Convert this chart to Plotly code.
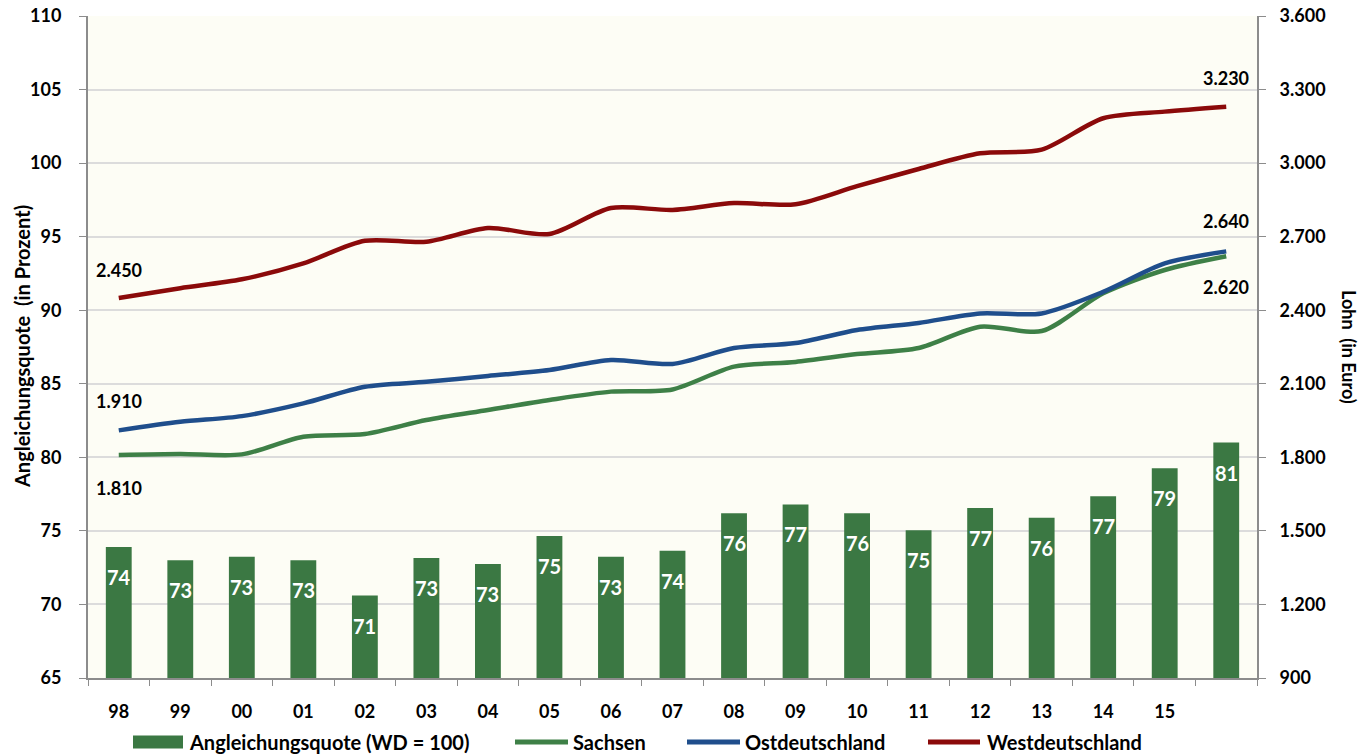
import plotly.graph_objects as go

years = ["98", "99", "00", "01", "02", "03", "04", "05", "06", "07",
         "08", "09", "10", "11", "12", "13", "14", "15", "16"]
quote = [73.9, 73.0, 73.25, 73.0, 70.6, 73.15, 72.75, 74.65, 73.25, 73.65,
         76.2, 76.8, 76.2, 75.05, 76.55, 75.9, 77.35, 79.25, 81.0]
quote_labels = [74, 73, 73, 73, 71, 73, 73, 75, 73, 74,
                76, 77, 76, 75, 77, 76, 77, 79, 81]
sachsen = [1810, 1814, 1812, 1884, 1895, 1952, 1993, 2034, 2068, 2077,
           2170, 2189, 2221, 2246, 2333, 2315, 2469, 2564, 2620]
ost = [1910, 1945, 1968, 2020, 2088, 2108, 2132, 2156, 2197, 2181,
       2246, 2266, 2319, 2348, 2387, 2387, 2475, 2591, 2640]
west = [2450, 2490, 2526, 2591, 2683, 2679, 2735, 2711, 2817, 2809,
        2837, 2832, 2906, 2976, 3040, 3055, 3183, 3210, 3230]
series_names = ["Angleichungsquote (WD = 100)", "Sachsen", "Ostdeutschland", "Westdeutschland"]

FONT = "Lato"
GREEN_BAR = "#3b7843"
GREEN = "#3e8047"
BLUE = "#1f4e8c"
RED = "#8b0a0a"

W, H = 1361, 754
ML, MR, MT, MB = 88, 104, 16, 76
PW, PH = W - ML - MR, H - MT - MB


def px_x(x):
    return (x - ML) / PW


def px_y(y):
    return (H - MB - y) / PH


fig = go.Figure()
fig.add_trace(go.Bar(x=years, y=quote, name=series_names[0],
                     marker=dict(color=GREEN_BAR, line=dict(width=0)),
                     yaxis="y"))
for name, vals, col in [(series_names[1], sachsen, GREEN),
                        (series_names[2], ost, BLUE),
                        (series_names[3], west, RED)]:
    fig.add_trace(go.Scatter(x=years, y=vals, name=name, mode="lines",
                             line=dict(color=col, width=4.5, shape="spline", smoothing=0.8),
                             yaxis="y2"))

annotations = []
for i, (v, lab) in enumerate(zip(quote, quote_labels)):
    annotations.append(dict(x=i, y=v, xref="x", yref="y", text=str(lab),
                            showarrow=False, yshift=-30,
                            font=dict(family=FONT, size=20, color="white", weight="bold")))


def fmt(v):
    return f"{v:,}".replace(",", ".")


last = len(years) - 1
for series, shift_first, shift_last in [(west, 28, 29), (ost, 29, 30), (sachsen, -33, -31)]:
    annotations.append(dict(x=0, y=series[0], xref="x", yref="y2", text=fmt(series[0]),
                            showarrow=False, yshift=shift_first,
                            font=dict(family=FONT, size=18, color="black", weight="bold")))
    annotations.append(dict(x=last, y=series[-1], xref="x", yref="y2", text=fmt(series[-1]),
                            showarrow=False, yshift=shift_last,
                            font=dict(family=FONT, size=18, color="black", weight="bold")))

annotations.append(dict(x=px_x(22), y=0.5, xref="paper", yref="paper",
                        text="Angleichungsquote\u00a0\u00a0(in Prozent)", textangle=-90,
                        showarrow=False, xanchor="center", yanchor="middle",
                        font=dict(family=FONT, size=20, color="black", weight="bold")))
annotations.append(dict(x=px_x(1349), y=0.5, xref="paper", yref="paper",
                        text="Lohn\u00a0\u00a0(in Euro)", textangle=90,
                        showarrow=False, xanchor="center", yanchor="middle",
                        font=dict(family=FONT, size=18, color="black", weight="bold")))

# legend drawn as keys + labels below the plot
shapes = []
legend_keys = [("bar", GREEN_BAR, 133, 183, 187),
               ("line", GREEN, 515, 568, 571),
               ("line", BLUE, 687, 740, 743),
               ("line", RED, 928, 980, 985)]
LEG_Y = 742
for name, (kind, col, x0, x1, tx) in zip(series_names, legend_keys):
    if kind == "bar":
        shapes.append(dict(type="rect", xref="paper", yref="paper",
                           x0=px_x(x0), x1=px_x(x1), y0=px_y(LEG_Y + 6.5), y1=px_y(LEG_Y - 6.5),
                           fillcolor=col, line=dict(width=0)))
    else:
        shapes.append(dict(type="line", xref="paper", yref="paper",
                           x0=px_x(x0), x1=px_x(x1), y0=px_y(LEG_Y), y1=px_y(LEG_Y),
                           line=dict(color=col, width=5)))
    annotations.append(dict(x=px_x(tx), y=px_y(LEG_Y), xref="paper", yref="paper",
                            text=name, showarrow=False, xanchor="left", yanchor="middle",
                            font=dict(family=FONT, size=20, color="black", weight="bold")))

TICKFONT = dict(family=FONT, size=18, color="black", weight="bold")

fig.update_layout(
    width=W, height=H,
    margin=dict(l=ML, r=MR, t=MT, b=MB, autoexpand=False),
    paper_bgcolor="white",
    plot_bgcolor="#fdfdf5",
    bargap=0.58,
    separators=",.",
    font=dict(family=FONT, size=18, color="black"),
    showlegend=False,
    xaxis=dict(type="category", categoryorder="array", categoryarray=years,
               range=[-0.5, len(years) - 0.5], automargin=False,
               tickson="boundaries", ticks="outside", ticklen=6,
               tickcolor="#8c8c8c", showline=True, linecolor="#8c8c8c", linewidth=2,
               showgrid=False, labelalias={"16": " "}, tickangle=0,
               tickfont=TICKFONT, ticklabelstandoff=16),
    yaxis=dict(range=[65, 110], dtick=5, ticks="outside", ticklen=7, tickcolor="#8c8c8c",
               showline=True, linecolor="#8c8c8c", linewidth=2, automargin=False,
               showgrid=True, gridcolor="#dcdcdc", gridwidth=1.5, zeroline=False,
               tickfont=TICKFONT, ticklabelstandoff=14),
    yaxis2=dict(range=[900, 3600], dtick=300, overlaying="y", side="right",
                ticks="outside", ticklen=7, tickcolor="#8c8c8c", automargin=False,
                showline=True, linecolor="#8c8c8c", linewidth=2, showgrid=False,
                zeroline=False, separatethousands=True, tickformat=",d",
                tickfont=TICKFONT, ticklabelstandoff=10),
    annotations=annotations,
    shapes=shapes,
)

fig.write_html("out.html", config={"displayModeBar": False},
               post_script="document.body.style.margin='0';document.body.style.overflow='hidden';")
